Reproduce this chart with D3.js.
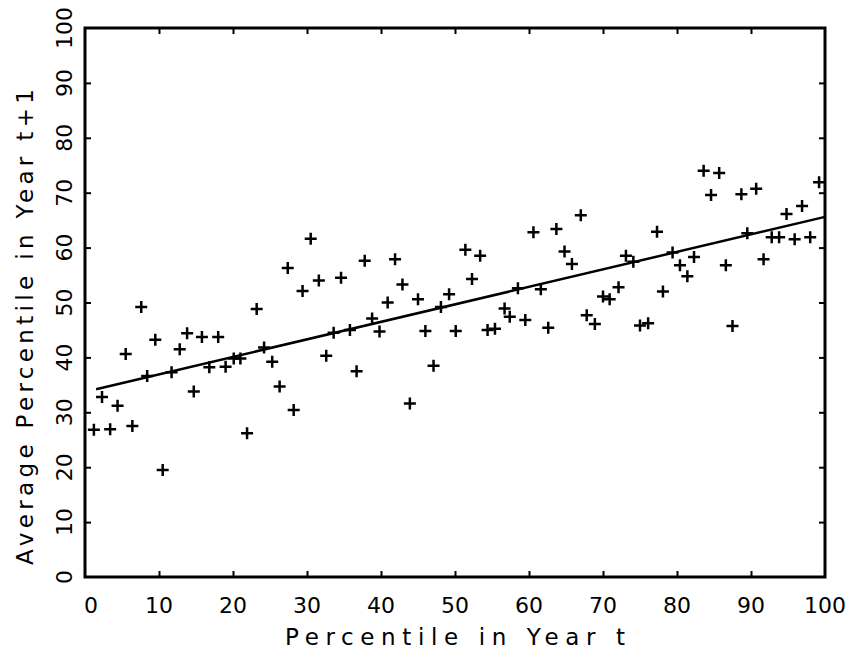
<!DOCTYPE html>
<html lang="en">
<head>
<meta charset="utf-8">
<style>
    body { margin: 0; background: #fff; }
    text { font-family: "DejaVu Sans", sans-serif; fill: #000; }
</style>
<script src="https://d3js.org/d3.v7.min.js"></script>
</head>
<body>
<script>
    var width = 852, height = 653;

    // percentile in year t
    var xs = [1.2, 2.3, 3.4, 4.4, 5.5, 6.4, 7.6, 8.4, 9.5, 10.5, 11.7, 12.8, 13.8, 14.7, 15.8, 16.8,
              18.0, 19.0, 20.1, 21.0, 21.9, 23.2, 24.2, 25.3, 26.3, 27.4, 28.2, 29.4, 30.5, 31.6, 32.6,
              33.6, 34.6, 35.8, 36.7, 37.8, 38.8, 39.8, 40.9, 41.9, 42.9, 43.9, 45.0, 46.0, 47.1, 48.1,
              49.2, 50.1, 51.4, 52.3, 53.4, 54.4, 55.4, 56.7, 57.4, 58.5, 59.5, 60.6, 61.6, 62.6, 63.7,
              64.8, 65.8, 67.0, 67.8, 68.9, 70.0, 70.9, 72.1, 73.1, 74.1, 75.0, 76.1, 77.3, 78.1, 79.4,
              80.4, 81.4, 82.3, 83.6, 84.6, 85.7, 86.6, 87.5, 88.7, 89.5, 90.7, 91.7, 92.8, 93.8, 94.8,
              95.9, 96.9, 98.0, 99.2];
    // average percentile in year t+1
    var ys = [26.8, 32.8, 26.9, 31.2, 40.6, 27.5, 49.2, 36.6, 43.2, 19.5, 37.3, 41.5, 44.4, 33.8, 43.7, 38.2,
              43.7, 38.3, 39.8, 39.8, 26.2, 48.8, 41.8, 39.2, 34.7, 56.3, 30.4, 52.1, 61.6, 54.0, 40.3,
              44.5, 54.5, 45.0, 37.5, 57.6, 47.1, 44.7, 50.0, 57.9, 53.3, 31.6, 50.6, 44.8, 38.5, 49.2,
              51.5, 44.8, 59.6, 54.3, 58.5, 45.0, 45.2, 48.9, 47.4, 52.6, 46.8, 62.8, 52.4, 45.4, 63.4,
              59.3, 57.0, 65.9, 47.7, 46.1, 51.1, 50.6, 52.8, 58.5, 57.4, 45.8, 46.2, 62.9, 52.0, 59.1,
              56.8, 54.8, 58.3, 74.0, 69.6, 73.6, 56.8, 45.7, 69.7, 62.6, 70.7, 57.9, 61.9, 61.9, 66.1,
              61.5, 67.6, 61.9, 71.9];

    // fitted line end points
    var fitX = [1.5, 100];
    var fitY = [34.2, 65.6];

    var tickVals = [0, 10, 20, 30, 40, 50, 60, 70, 80, 90, 100];

    var plotL = 85, plotR = 825, plotT = 28, plotB = 577;

    var x = d3.scaleLinear().domain([0, 100]).range([plotL, plotR]);
    var y = d3.scaleLinear().domain([0, 100]).range([plotB, plotT]);

    var svg = d3.select("body").append("svg")
        .attr("width", width)
        .attr("height", height);

    // frame
    svg.append("rect")
        .attr("x", plotL).attr("y", plotT)
        .attr("width", plotR - plotL).attr("height", plotB - plotT)
        .attr("fill", "none")
        .attr("stroke", "#000")
        .attr("stroke-width", 3);

    // inward ticks on all four sides, no labels from the axes
    var tickLen = 6;
    var inner = tickVals.slice(1, -1);
    svg.append("g").attr("transform", "translate(0," + plotB + ")")
        .call(d3.axisTop(x).tickValues(inner).tickSize(tickLen).tickFormat(""));
    svg.append("g").attr("transform", "translate(0," + plotT + ")")
        .call(d3.axisBottom(x).tickValues(inner).tickSize(tickLen).tickFormat(""));
    svg.append("g").attr("transform", "translate(" + plotL + ",0)")
        .call(d3.axisRight(y).tickValues(inner).tickSize(tickLen).tickFormat(""));
    svg.append("g").attr("transform", "translate(" + plotR + ",0)")
        .call(d3.axisLeft(y).tickValues(inner).tickSize(tickLen).tickFormat(""));
    svg.selectAll(".domain").remove();
    svg.selectAll(".tick line").attr("stroke", "#000").attr("stroke-width", 2);

    // x tick labels
    svg.selectAll(".xlab")
        .data(tickVals)
        .enter().append("text")
        .attr("class", "xlab")
        .attr("x", function(d) { return x(d) + (d === 0 ? 6 : 0); })
        .attr("y", 613)
        .attr("text-anchor", "middle")
        .style("font-size", "22px")
        .text(function(d) { return d; });

    // y tick labels, rotated
    svg.selectAll(".ylab")
        .data(tickVals)
        .enter().append("text")
        .attr("class", "ylab")
        .attr("transform", function(d) { return "translate(72," + y(d) + ") rotate(-90)"; })
        .attr("text-anchor", "middle")
        .style("font-size", "22px")
        .text(function(d) { return d; });

    // axis titles
    svg.append("text")
        .attr("x", (plotL + plotR) / 2)
        .attr("y", 645)
        .attr("text-anchor", "middle")
        .attr("textLength", 340)
        .style("font-size", "23px")
        .text("Percentile in Year t");

    svg.append("text")
        .attr("transform", "translate(33," + 327 + ") rotate(-90)")
        .attr("text-anchor", "middle")
        .attr("textLength", 476)
        .style("font-size", "23px")
        .text("Average Percentile in Year t+1");

    // fitted line
    svg.append("line")
        .attr("x1", x(fitX[0])).attr("y1", y(fitY[0]))
        .attr("x2", x(fitX[1])).attr("y2", y(fitY[1]))
        .attr("stroke", "#000")
        .attr("stroke-width", 2.5);

    // crosses
    var pts = xs.map(function(v, i) { return {x: v, y: ys[i]}; });
    var s = 6;
    svg.selectAll(".point")
        .data(pts)
        .enter().append("path")
        .attr("class", "point")
        .attr("d", function(d) {
            var cx = x(d.x), cy = y(d.y);
            return "M" + (cx - s) + "," + cy + "H" + (cx + s) + "M" + cx + "," + (cy - s) + "V" + (cy + s);
        })
        .attr("stroke", "#000")
        .attr("stroke-width", 2.5)
        .attr("fill", "none");
</script>
</body>
</html>
